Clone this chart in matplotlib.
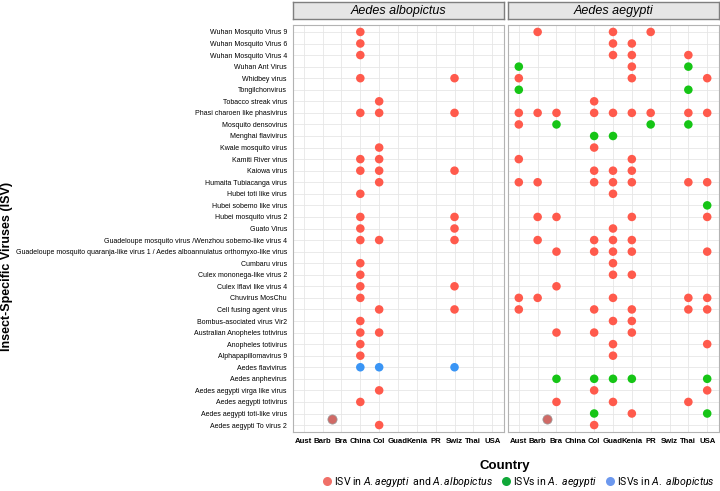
import matplotlib
matplotlib.use("Agg")
import matplotlib.pyplot as plt
from matplotlib.lines import Line2D

countries = ["Aust", "Barb", "Bra", "China", "Col", "Guad", "Kenia", "PR", "Swiz", "Thai", "USA"]

viruses = [
    "Wuhan Mosquito Virus 9", "Wuhan Mosquito Virus 6", "Wuhan Mosquito Virus 4",
    "Wuhan Ant Virus", "Whidbey virus", "Tongilchonvirus", "Tobacco streak virus",
    "Phasi charoen like phasivirus", "Mosquito densovirus", "Menghai flavivirus",
    "Kwale mosquito virus", "Kamiti River virus", "Kaiowa virus",
    "Humaita Tubiacanga virus", "Hubei toti like virus", "Hubei sobemo like virus",
    "Hubei mosquito virus 2", "Guato Virus",
    "Guadeloupe mosquito virus /Wenzhou sobemo-like virus 4",
    "Guadeloupe mosquito quaranja-like virus 1 / Aedes alboannulatus orthomyxo-like virus",
    "Cumbaru virus", "Culex mononega-like virus 2", "Culex Iflavi like virus 4",
    "Chuvirus MosChu", "Cell fusing agent virus", "Bombus-asociated virus Vir2",
    "Australian Anopheles totivirus", "Anopheles totivirus", "Alphapapillomavirus 9",
    "Aedes flavivirus", "Aedes anphevirus", "Aedes aegypti virga like virus",
    "Aedes aegypti totivirus", "Aedes aegypti toti-like virus", "Aedes aegypti To virus 2",
]

# (virus, country, group) ; group: "both", "aeg", "alb"
albopictus = [
    ("Wuhan Mosquito Virus 9", "China", "both"),
    ("Wuhan Mosquito Virus 6", "China", "both"),
    ("Wuhan Mosquito Virus 4", "China", "both"),
    ("Whidbey virus", "China", "both"), ("Whidbey virus", "Swiz", "both"),
    ("Tobacco streak virus", "Col", "both"),
    ("Phasi charoen like phasivirus", "China", "both"),
    ("Phasi charoen like phasivirus", "Col", "both"),
    ("Phasi charoen like phasivirus", "Swiz", "both"),
    ("Kwale mosquito virus", "Col", "both"),
    ("Kamiti River virus", "China", "both"), ("Kamiti River virus", "Col", "both"),
    ("Kaiowa virus", "China", "both"), ("Kaiowa virus", "Col", "both"), ("Kaiowa virus", "Swiz", "both"),
    ("Humaita Tubiacanga virus", "Col", "both"),
    ("Hubei toti like virus", "China", "both"),
    ("Hubei mosquito virus 2", "China", "both"), ("Hubei mosquito virus 2", "Swiz", "both"),
    ("Guato Virus", "China", "both"), ("Guato Virus", "Swiz", "both"),
    ("Guadeloupe mosquito virus /Wenzhou sobemo-like virus 4", "China", "both"),
    ("Guadeloupe mosquito virus /Wenzhou sobemo-like virus 4", "Col", "both"),
    ("Guadeloupe mosquito virus /Wenzhou sobemo-like virus 4", "Swiz", "both"),
    ("Cumbaru virus", "China", "both"),
    ("Culex mononega-like virus 2", "China", "both"),
    ("Culex Iflavi like virus 4", "China", "both"), ("Culex Iflavi like virus 4", "Swiz", "both"),
    ("Chuvirus MosChu", "China", "both"),
    ("Cell fusing agent virus", "Col", "both"), ("Cell fusing agent virus", "Swiz", "both"),
    ("Bombus-asociated virus Vir2", "China", "both"),
    ("Australian Anopheles totivirus", "China", "both"),
    ("Australian Anopheles totivirus", "Col", "both"),
    ("Anopheles totivirus", "China", "both"),
    ("Alphapapillomavirus 9", "China", "both"),
    ("Aedes flavivirus", "China", "alb"), ("Aedes flavivirus", "Col", "alb"),
    ("Aedes flavivirus", "Swiz", "alb"),
    ("Aedes aegypti virga like virus", "Col", "both"),
    ("Aedes aegypti totivirus", "China", "both"),
    ("Aedes aegypti To virus 2", "Col", "both"),
]

aegypti = [
    ("Wuhan Mosquito Virus 9", "Barb", "both"), ("Wuhan Mosquito Virus 9", "Guad", "both"),
    ("Wuhan Mosquito Virus 9", "PR", "both"),
    ("Wuhan Mosquito Virus 6", "Guad", "both"), ("Wuhan Mosquito Virus 6", "Kenia", "both"),
    ("Wuhan Mosquito Virus 4", "Guad", "both"), ("Wuhan Mosquito Virus 4", "Kenia", "both"),
    ("Wuhan Mosquito Virus 4", "Thai", "both"),
    ("Wuhan Ant Virus", "Aust", "aeg"), ("Wuhan Ant Virus", "Kenia", "both"),
    ("Wuhan Ant Virus", "Thai", "aeg"),
    ("Whidbey virus", "Aust", "both"), ("Whidbey virus", "Kenia", "both"),
    ("Whidbey virus", "USA", "both"),
    ("Tongilchonvirus", "Aust", "aeg"), ("Tongilchonvirus", "Thai", "aeg"),
    ("Tobacco streak virus", "Col", "both"),
    ("Phasi charoen like phasivirus", "Aust", "both"), ("Phasi charoen like phasivirus", "Barb", "both"),
    ("Phasi charoen like phasivirus", "Bra", "both"), ("Phasi charoen like phasivirus", "Col", "both"),
    ("Phasi charoen like phasivirus", "Guad", "both"), ("Phasi charoen like phasivirus", "Kenia", "both"),
    ("Phasi charoen like phasivirus", "PR", "both"), ("Phasi charoen like phasivirus", "Thai", "both"),
    ("Phasi charoen like phasivirus", "USA", "both"),
    ("Mosquito densovirus", "Aust", "both"), ("Mosquito densovirus", "Bra", "aeg"),
    ("Mosquito densovirus", "PR", "aeg"), ("Mosquito densovirus", "Thai", "aeg"),
    ("Menghai flavivirus", "Col", "aeg"), ("Menghai flavivirus", "Guad", "aeg"),
    ("Kwale mosquito virus", "Col", "both"),
    ("Kamiti River virus", "Aust", "both"), ("Kamiti River virus", "Kenia", "both"),
    ("Kaiowa virus", "Col", "both"), ("Kaiowa virus", "Guad", "both"), ("Kaiowa virus", "Kenia", "both"),
    ("Humaita Tubiacanga virus", "Aust", "both"), ("Humaita Tubiacanga virus", "Barb", "both"),
    ("Humaita Tubiacanga virus", "Col", "both"), ("Humaita Tubiacanga virus", "Guad", "both"),
    ("Humaita Tubiacanga virus", "Kenia", "both"), ("Humaita Tubiacanga virus", "Thai", "both"),
    ("Humaita Tubiacanga virus", "USA", "both"),
    ("Hubei toti like virus", "Guad", "both"),
    ("Hubei sobemo like virus", "USA", "aeg"),
    ("Hubei mosquito virus 2", "Barb", "both"), ("Hubei mosquito virus 2", "Bra", "both"),
    ("Hubei mosquito virus 2", "Kenia", "both"), ("Hubei mosquito virus 2", "USA", "both"),
    ("Guato Virus", "Guad", "both"),
    ("Guadeloupe mosquito virus /Wenzhou sobemo-like virus 4", "Barb", "both"),
    ("Guadeloupe mosquito virus /Wenzhou sobemo-like virus 4", "Col", "both"),
    ("Guadeloupe mosquito virus /Wenzhou sobemo-like virus 4", "Guad", "both"),
    ("Guadeloupe mosquito virus /Wenzhou sobemo-like virus 4", "Kenia", "both"),
    ("Guadeloupe mosquito quaranja-like virus 1 / Aedes alboannulatus orthomyxo-like virus", "Bra", "both"),
    ("Guadeloupe mosquito quaranja-like virus 1 / Aedes alboannulatus orthomyxo-like virus", "Col", "both"),
    ("Guadeloupe mosquito quaranja-like virus 1 / Aedes alboannulatus orthomyxo-like virus", "Guad", "both"),
    ("Guadeloupe mosquito quaranja-like virus 1 / Aedes alboannulatus orthomyxo-like virus", "Kenia", "both"),
    ("Guadeloupe mosquito quaranja-like virus 1 / Aedes alboannulatus orthomyxo-like virus", "USA", "both"),
    ("Cumbaru virus", "Guad", "both"),
    ("Culex mononega-like virus 2", "Guad", "both"), ("Culex mononega-like virus 2", "Kenia", "both"),
    ("Culex Iflavi like virus 4", "Bra", "both"),
    ("Chuvirus MosChu", "Aust", "both"), ("Chuvirus MosChu", "Barb", "both"),
    ("Chuvirus MosChu", "Guad", "both"), ("Chuvirus MosChu", "Thai", "both"),
    ("Chuvirus MosChu", "USA", "both"),
    ("Cell fusing agent virus", "Aust", "both"), ("Cell fusing agent virus", "Col", "both"),
    ("Cell fusing agent virus", "Kenia", "both"), ("Cell fusing agent virus", "Thai", "both"),
    ("Cell fusing agent virus", "USA", "both"),
    ("Bombus-asociated virus Vir2", "Guad", "both"), ("Bombus-asociated virus Vir2", "Kenia", "both"),
    ("Australian Anopheles totivirus", "Bra", "both"), ("Australian Anopheles totivirus", "Col", "both"),
    ("Australian Anopheles totivirus", "Kenia", "both"),
    ("Anopheles totivirus", "Guad", "both"), ("Anopheles totivirus", "USA", "both"),
    ("Alphapapillomavirus 9", "Guad", "both"),
    ("Aedes anphevirus", "Bra", "aeg"), ("Aedes anphevirus", "Col", "aeg"),
    ("Aedes anphevirus", "Guad", "aeg"), ("Aedes anphevirus", "Kenia", "aeg"),
    ("Aedes anphevirus", "USA", "aeg"),
    ("Aedes aegypti virga like virus", "Col", "both"), ("Aedes aegypti virga like virus", "USA", "both"),
    ("Aedes aegypti totivirus", "Bra", "both"), ("Aedes aegypti totivirus", "Guad", "both"),
    ("Aedes aegypti totivirus", "Thai", "both"),
    ("Aedes aegypti toti-like virus", "Col", "aeg"), ("Aedes aegypti toti-like virus", "Kenia", "both"),
    ("Aedes aegypti toti-like virus", "USA", "aeg"),
    ("Aedes aegypti To virus 2", "Col", "both"),
]

# stray point drawn in both panels (between Barb/Bra and the two bottom rows)
stray_x = 1.5
stray_y = 0.5

panel_titles = ["Aedes albopictus", "Aedes aegypti"]
group_colors = {"both": "#FF5A4C", "aeg": "#16C516", "alb": "#3A95F5"}
legend_labels = ["ISV in $\\mathit{A.aegypti}$  and $\\mathit{A.albopictus}$",
                 "ISVs in $\\mathit{A.\\ aegypti}$", "ISVs in $\\mathit{A.\\ albopictus}$"]
legend_colors = ["#F07068", "#10A838", "#6C98EE"]

plt.rcParams["font.family"] = ["Liberation Sans", "DejaVu Sans"]
plt.rcParams["mathtext.fontset"] = "custom"
plt.rcParams["mathtext.it"] = "Roboto:italic"
plt.rcParams["mathtext.rm"] = "Roboto"

W, H = 720, 491
fig = plt.figure(figsize=(W / 100, H / 100), dpi=100)

n = len(viruses)
ypos = {v: n - 1 - i for i, v in enumerate(viruses)}
xpos = {c: i for i, c in enumerate(countries)}

panels_px = [(292.5, 503.5), (507.5, 718.5)]
top_px, bot_px = 25, 432
strip_top, strip_bot = 2, 18.5

for k, (x0, x1) in enumerate(panels_px):
    ax = fig.add_axes([x0 / W, 1 - bot_px / H, (x1 - x0) / W, (bot_px - top_px) / H])
    data = albopictus if k == 0 else aegypti
    ax.set_xlim(-0.6, len(countries) - 0.4)
    ax.set_ylim(-0.6, n - 0.4)
    ax.set_xticks(range(len(countries)))
    ax.set_xticklabels(countries, fontsize=5.6, fontweight="bold")
    ax.set_yticks(range(n))
    if k == 0:
        ax.set_yticklabels(viruses[::-1], fontsize=5.05)
    else:
        ax.set_yticklabels([])
    ax.tick_params(length=0, pad=4)
    ax.grid(True, color="#E6E6E6", linewidth=0.6)
    ax.set_axisbelow(True)
    for s in ax.spines.values():
        s.set_color("#B3B3B3")
        s.set_linewidth(0.8)
    for g in ["both", "aeg", "alb"]:
        xs = [xpos[c] for v, c, gg in data if gg == g]
        ys = [ypos[v] for v, c, gg in data if gg == g]
        if xs:
            ax.scatter(xs, ys, s=38, color=group_colors[g], edgecolors="none", zorder=3)
    ax.scatter([stray_x], [stray_y], s=44, color="#D06A66", edgecolors="#999999",
               linewidths=0.5, zorder=3)
    sax = fig.add_axes([x0 / W, 1 - strip_bot / H, (x1 - x0) / W, (strip_bot - strip_top) / H])
    sax.set_xticks([]); sax.set_yticks([])
    sax.set_facecolor("#E6E6E6")
    for s in sax.spines.values():
        s.set_color("#7F7F7F")
        s.set_linewidth(1.0)
    sax.text(0.5, 0.45, panel_titles[k], ha="center", va="center", fontsize=9,
             style="italic", transform=sax.transAxes)

fig.text(7 / W, 1 - 266 / H, "Insect-Specific Viruses (ISV)", rotation=90,
         ha="center", va="center", fontsize=9, fontweight="bold")
fig.text(505 / W, 1 - 466 / H, "Country", ha="center", va="center",
         fontsize=9.5, fontweight="bold")

handles = [Line2D([], [], marker="o", linestyle="none", markersize=6.5,
                  markerfacecolor=c, markeredgecolor="none") for c in legend_colors]
fig.legend(handles, legend_labels, loc="center", bbox_to_anchor=(518 / W, 1 - 482 / H),
           ncol=3, frameon=False, handletextpad=0.1, columnspacing=0.6,
           handlelength=1.2, borderpad=0,
           prop={"family": ["Roboto", "DejaVu Sans"], "size": 7.6})

fig.savefig("out.png", dpi=100)
